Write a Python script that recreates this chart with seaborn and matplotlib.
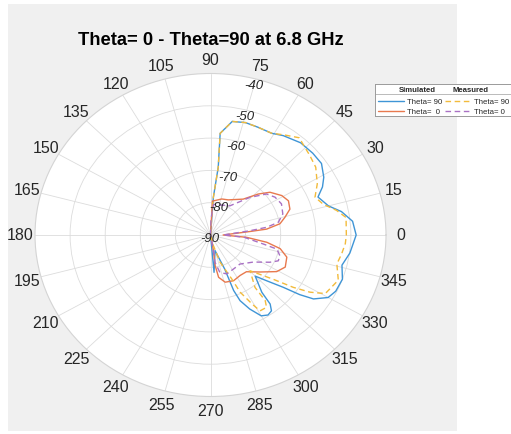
import numpy as np
import pandas as pd
import matplotlib
matplotlib.use("Agg")
import matplotlib.pyplot as plt
from matplotlib.patches import Rectangle
import seaborn as sns

# ---------------- data (angles in degrees, values in dB) ----------------
title = "Theta= 0 - Theta=90 at 6.8 GHz"
series_names = ["Sim Theta=90", "Sim Theta=0", "Meas Theta=90", "Meas Theta=0"]

sim90_theta = [180, 95, 86, 84, 85, 80, 74, 68, 61, 56, 48, 41, 35, 29, 25, 21, 15, 11, 6, 0,
               -8, -14, -20, -26, -30, -34, -36, -38, -41.5, -45, -50.5, -51.5, -53.5, -56.5,
               -60, -64, -67.5, -69, -69, -75, -85, -88, -90, -180]
sim90_db = [-90, -90, -78.3, -68.9, -58.4, -54.3, -53.8, -54.0, -54.0, -52.9, -51.6, -51.4, -51.4,
            -53.1, -54.8, -57.2, -55.2, -52.0, -49.3, -48.5, -49.9, -51.4, -50.0, -50.3, -51.3,
            -54.6, -58.6, -63.7, -68.6, -72.0, -67.0, -62.7, -60.8, -60.3, -61.1, -64.5, -68.0,
            -71.6, -78.7, -85.0, -78.4, -90, -90, -90]

meas90_theta = [180, 95, 86, 84, 85, 80, 74, 68, 61, 56, 50, 41, 35, 27.5, 21.5, 16.5, 12, 8, 0,
                -4, -9, -14, -21, -24, -29, -32, -34.5, -37.5, -44.5, -52, -52.5, -54.5, -59, -61,
                -64.5, -66, -72, -76, -90, -180]
meas90_db = [-90, -90, -78.3, -69.0, -58.4, -54.3, -53.8, -54.0, -54.0, -52.6, -50.7, -52.5, -53.4,
             -55.7, -58.0, -56.5, -53.3, -51.0, -51.3, -51.5, -52.2, -52.9, -51.0, -51.7, -52.6,
             -56.6, -61.4, -67.5, -74.2, -69.4, -64.4, -62.5, -62.6, -65.6, -70.4, -75.1, -81.1,
             -86.6, -90, -90]

sim0_theta = [180, 95, 87, 74, 65, 50, 43, 38, 31, 25.5, 19.5, 14.5, 10, 6.5, 5.5, 0, -4, -8, -12,
              -17.5, -25, -31, -39, -48, -56, -65, -74, -80, -82, -80, -90, -180]
sim0_db = [-90, -90, -79.5, -78.4, -78.0, -75.5, -71.4, -68.5, -66.3, -65.4, -66.0, -68.1, -69.9,
           -73.9, -78.7, -86.4, -79.7, -73.8, -69.7, -67.2, -66.5, -68.0, -71.8, -74.7, -74.9,
           -74.4, -74.8, -76.7, -80.4, -85.6, -90, -90]

meas0_theta = [180, 95, 88, 85, 58.5, 46, 38.5, 32.5, 25.5, 17.5, 11.5, 8.5, 6.7, 0, -4, -10.5,
               -13, -18, -22.5, -26.5, -34.5, -47, -58, -69, -77, -81.5, -80, -90, -180]
meas0_db = [-90, -90, -85, -80.5, -79.4, -73.8, -69.6, -68.2, -67.6, -68.4, -70.3, -73.8, -78.7,
            -86.4, -80.5, -74.7, -70.6, -69.2, -69.1, -71.1, -75.2, -77.7, -77.6, -77.1, -78.1,
            -81.5, -85.6, -90, -90]

theta_tick_deg = list(range(0, 360, 15))
r_ticks = [-90, -80, -70, -60, -50, -40]

colors = {"Sim Theta=90": "#3f95d6", "Sim Theta=0": "#e8794e",
          "Meas Theta=90": "#f2bb3c", "Meas Theta=0": "#a971c4"}
dashes = {"Sim Theta=90": "", "Sim Theta=0": "",
          "Meas Theta=90": (4, 2.6), "Meas Theta=0": (4, 2.6)}

frames = []
for name, th, db in [("Sim Theta=90", sim90_theta, sim90_db),
                     ("Sim Theta=0", sim0_theta, sim0_db),
                     ("Meas Theta=90", meas90_theta, meas90_db),
                     ("Meas Theta=0", meas0_theta, meas0_db)]:
    frames.append(pd.DataFrame({"theta": np.deg2rad(th), "r": db, "series": name,
                                "order": np.arange(len(th))}))
df = pd.concat(frames, ignore_index=True)

# ---------------- figure ----------------
sns.set_theme(style="white")
plt.rcParams["font.family"] = ["Liberation Sans", "DejaVu Sans"]

W, H = 511, 435
fig = plt.figure(figsize=(W / 100, H / 100), dpi=100, facecolor="white")
fig.add_artist(Rectangle((8 / W, 3 / H), 449 / W, 427 / H, transform=fig.transFigure,
                         facecolor="#f0f0f0", edgecolor="none", zorder=-5))

ax = fig.add_axes([35 / W, 37.5 / H, 351 / W, 323 / H], projection="polar")
ax.set_aspect("auto")
ax.set_facecolor("white")

sns.lineplot(data=df, x="theta", y="r", hue="series", style="series",
             hue_order=series_names, style_order=series_names,
             palette=colors, dashes=dashes, sort=False, estimator=None,
             linewidth=1.0, legend=False, ax=ax)
ax.set_xlabel("")
ax.set_ylabel("")

ax.set_ylim(r_ticks[0], r_ticks[-1])
ax.set_yticks(r_ticks[1:-1])
ax.set_yticklabels([])
ax.set_xticks(np.deg2rad(theta_tick_deg))
ax.set_xticklabels([])
ax.grid(True, color="#dcdcdc", linewidth=0.6)
ax.spines["polar"].set_color("#d4d4d4")
ax.spines["polar"].set_linewidth(0.8)

# theta labels outside the circle
for d in theta_tick_deg:
    a = np.deg2rad(d)
    ax.text(0.5 + 0.5413 * np.cos(a), 0.5 + 0.5418 * np.sin(a), str(d),
            transform=ax.transAxes, ha="center", va="center",
            fontsize=11.5, color="#262626", clip_on=False)

# radial labels along ~80 deg
for k, v in enumerate(r_ticks):
    px = 210 + 8.75 * k
    py = 239 - 30.6 * k
    ax.text((px - 35) / 351, (H - py - 37.5) / 323, str(v), transform=ax.transAxes,
            ha="center", va="center", fontsize=9.5, style="italic", color="#262626")

fig.text(210.5 / W, (H - 45) / H, title, ha="center", va="baseline",
         fontsize=13.25, fontweight="bold", color="black")

# ---------------- legend box ----------------
lax = fig.add_axes([375 / W, (H - 117.3) / H, (W - 374.5) / W, 32.3 / H])
lax.set_xlim(375, W + 0.5)
lax.set_ylim(117.3, 85)
lax.set_xticks([])
lax.set_yticks([])
lax.set_facecolor("white")
for s in lax.spines.values():
    s.set_color("#9a9a9a")
    s.set_linewidth(0.7)
lax.axhline(95, color="#b0b0b0", linewidth=0.6)
lax.text(417.5, 90, "Simulated", ha="center", va="center", fontsize=5.6, fontweight="bold", color="#262626")
lax.text(470, 90, "Measured", ha="center", va="center", fontsize=5.6, fontweight="bold", color="#262626")
rows = [(102.3, "Sim Theta=90", "Theta= 90", "Meas Theta=90", "Theta= 90"),
        (112.0, "Sim Theta=0", "Theta=  0", "Meas Theta=0", "Theta= 0")]
for y, s1, t1, s2, t2 in rows:
    lax.plot([377.7, 404.3], [y, y], color=colors[s1], linewidth=1.0)
    lax.text(406.7, y, t1, ha="left", va="center", fontsize=5.6, color="#262626")
    lax.plot([445.3, 469.3], [y, y], color=colors[s2], linewidth=1.0, dashes=dashes[s2])
    lax.text(474.3, y, t2, ha="left", va="center", fontsize=5.6, color="#262626")

fig.savefig("out.png", dpi=100, facecolor=fig.get_facecolor())
